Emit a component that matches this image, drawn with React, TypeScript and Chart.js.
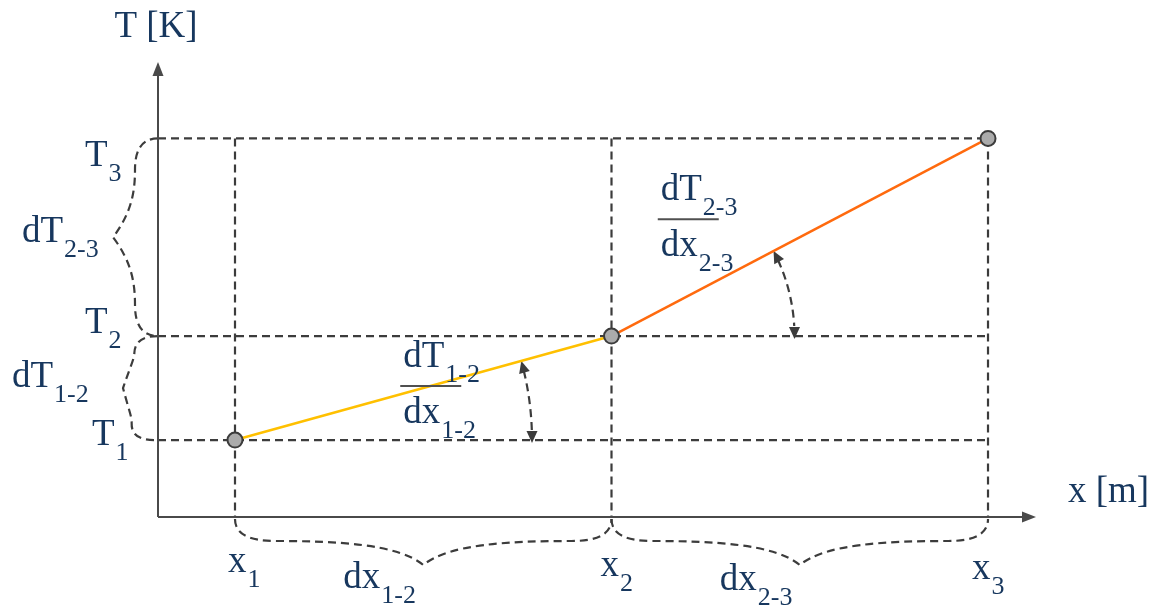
import React, { useEffect, useRef } from "react";
import { Chart, registerables } from "chart.js";

Chart.register(...registerables);

// ---------- data ----------
const xPositions = [1, 2, 3]; // x1, x2, x3 [m]
const temperatures = [1, 2, 3.9]; // T1, T2, T3 [K]
const pointIndices = ["1", "2", "3"];
const intervalLabels = ["1-2", "2-3"];
const xAxisTitle = "x [m]";
const yAxisTitle = "T [K]";

// ---------- style ----------
const TEXT = "#17375E";
const GRAY = "#3c3c3c";
const SEG_COLORS = ["#FFC000", "#FF6A0E"];
const POINT_FILL = "#ABABAB";
const FONT = "'Liberation Serif', 'Times New Roman', serif";
const MAIN = 37;
const SUB = 26;

function line(ctx: CanvasRenderingContext2D, x1: number, y1: number, x2: number, y2: number) {
  ctx.beginPath();
  ctx.moveTo(x1, y1);
  ctx.lineTo(x2, y2);
  ctx.stroke();
}

function arrowhead(ctx: CanvasRenderingContext2D, tx: number, ty: number, dx: number, dy: number, len: number, hw: number) {
  const n = Math.hypot(dx, dy);
  dx /= n;
  dy /= n;
  const bx = tx - dx * len;
  const by = ty - dy * len;
  ctx.beginPath();
  ctx.moveTo(tx, ty);
  ctx.lineTo(bx - dy * hw, by + dx * hw);
  ctx.lineTo(bx + dy * hw, by - dx * hw);
  ctx.closePath();
  ctx.fill();
}

function brace(
  ctx: CanvasRenderingContext2D,
  ax: number, ay: number, bx: number, by: number,
  nx: number, ny: number, m: number, D: number, c: number
) {
  const L = Math.hypot(bx - ax, by - ay);
  const ux = (bx - ax) / L;
  const uy = (by - ay) / L;
  const P = (u: number, v: number): [number, number] => [ax + u * ux + v * nx, ay + u * uy + v * ny];
  const h = L / 2;
  const a = Math.min(25, 0.22 * L);
  const mid1 = (c + (h - a)) / 2;
  ctx.beginPath();
  let p = P(0, 0);
  ctx.moveTo(p[0], p[1]);
  let q1 = P(0, m);
  let q2 = P(c, m);
  ctx.quadraticCurveTo(q1[0], q1[1], q2[0], q2[1]);
  let c1 = P(mid1, m);
  let c2 = P(h - a, m + 3);
  const t = P(h, D);
  ctx.bezierCurveTo(c1[0], c1[1], c2[0], c2[1], t[0], t[1]);
  c2 = P(h + a, m + 3);
  c1 = P(L - mid1, m);
  q2 = P(L - c, m);
  ctx.bezierCurveTo(c2[0], c2[1], c1[0], c1[1], q2[0], q2[1]);
  q1 = P(L, m);
  p = P(L, 0);
  ctx.quadraticCurveTo(q1[0], q1[1], p[0], p[1]);
  ctx.stroke();
}

function label(ctx: CanvasRenderingContext2D, main: string, sub: string, x: number, y: number) {
  ctx.fillStyle = TEXT;
  ctx.textAlign = "left";
  ctx.textBaseline = "alphabetic";
  ctx.font = `${MAIN}px ${FONT}`;
  ctx.fillText(main, x, y);
  const w = ctx.measureText(main).width;
  if (sub) {
    ctx.font = `${SUB}px ${FONT}`;
    ctx.fillText(sub, x + w + 1, y + 15);
  }
}

const diagramPlugin = {
  id: "diagram",
  beforeDatasetsDraw(chart: any) {
    const ctx: CanvasRenderingContext2D = chart.ctx;
    const { left, right, top, bottom } = chart.chartArea;
    const xs = chart.scales.x;
    const ys = chart.scales.y;
    const px = xPositions.map((v) => xs.getPixelForValue(v));
    const py = temperatures.map((v) => ys.getPixelForValue(v));
    const xMax = Math.max(...px);
    const yTop = Math.min(...py);

    ctx.save();
    ctx.strokeStyle = GRAY;
    ctx.fillStyle = GRAY;
    ctx.lineWidth = 2.2;
    ctx.setLineDash([8, 5]);

    // dashed guide grid
    px.forEach((x) => line(ctx, x, yTop, x, bottom));
    py.forEach((y) => line(ctx, left, y, xMax, y));

    // horizontal braces under the x axis
    const hb = [
      { m: 22, D: 46, c: 40 },
      { m: 22, D: 46, c: 40 },
    ];
    for (let i = 0; i < px.length - 1; i++) {
      brace(ctx, px[i], bottom + 2, px[i + 1], bottom + 2, 0, 1, hb[i].m, hb[i].D, hb[i].c);
    }
    // vertical braces left of the T axis
    const vb = [
      { m: 23, D: 33, c: 17 },
      { m: 23, D: 45, c: 31 },
    ];
    for (let i = 0; i < py.length - 1; i++) {
      brace(ctx, left, py[i + 1], left - (i === 0 ? 4 : 0), py[i], -1, 0, vb[i].m, vb[i].D, vb[i].c);
    }

    // angle arcs with double arrows
    const arcR = [297, 183];
    for (let i = 0; i < px.length - 1; i++) {
      const cx = px[i];
      const cy = py[i];
      const th = Math.atan2(py[i + 1] - cy, px[i + 1] - cx);
      const r = arcR[i];
      const g = 10 / r;
      ctx.setLineDash([8, 5]);
      ctx.beginPath();
      ctx.arc(cx, cy, r, th + g, -g);
      ctx.stroke();
      ctx.setLineDash([]);
      arrowhead(ctx, cx + r * Math.cos(th), cy + r * Math.sin(th), Math.sin(th), -Math.cos(th), 12, 5.5);
      arrowhead(ctx, cx + r, cy + 3, 0, 1, 12, 5.5);
    }

    // axes with arrows
    ctx.setLineDash([]);
    ctx.strokeStyle = "#4a4a4a";
    ctx.fillStyle = "#4a4a4a";
    ctx.lineWidth = 2;
    line(ctx, left, bottom, left, top + 8);
    arrowhead(ctx, left, top - 3, 0, -1, 14, 5.5);
    line(ctx, left, bottom, right - 8, bottom);
    arrowhead(ctx, right + 1, bottom, 1, 0, 14, 5.5);
    ctx.restore();
  },
  afterDatasetsDraw(chart: any) {
    const ctx: CanvasRenderingContext2D = chart.ctx;
    const { left, right, top, bottom } = chart.chartArea;
    const xs = chart.scales.x;
    const ys = chart.scales.y;
    const px = xPositions.map((v) => xs.getPixelForValue(v));
    const py = temperatures.map((v) => ys.getPixelForValue(v));

    ctx.save();
    // axis titles
    ctx.font = `${MAIN}px ${FONT}`;
    ctx.fillStyle = TEXT;
    ctx.textAlign = "center";
    ctx.fillText(yAxisTitle, left - 2, top - 28);
    ctx.textAlign = "left";
    ctx.fillText(xAxisTitle, right + 33, bottom - 15);

    // T labels
    const tDx = [66, 73, 73];
    const tDy = [5, -3, 28];
    py.forEach((y, i) => label(ctx, "T", pointIndices[i], left - tDx[i], y + tDy[i]));
    // x labels
    const xDx = [-7, -11, -16];
    const xDy = [55, 59, 62];
    px.forEach((x, i) => label(ctx, "x", pointIndices[i], x + xDx[i], bottom + xDy[i]));

    const dTdx = [146, 136];
    const dTdy = [-1, 5];
    const dxDy = [71, 73];
    const fracDx = [-23, -142];
    const fracDy = [-2, -18];
    intervalLabels.forEach((s, i) => {
      // brace labels
      label(ctx, "dT", s, left - dTdx[i], (py[i] + py[i + 1]) / 2 + dTdy[i]);
      label(ctx, "dx", s, (px[i] + px[i + 1]) / 2 - 80, bottom + dxDy[i]);
      // slope fraction
      const mx = (px[i] + px[i + 1]) / 2 + fracDx[i];
      const my = (py[i] + py[i + 1]) / 2 + fracDy[i];
      ctx.strokeStyle = "#505050";
      ctx.lineWidth = 2;
      line(ctx, mx, my, mx + 61, my);
      label(ctx, "dT", s, mx + 3, my - 19);
      label(ctx, "dx", s, mx + 3, my + 37);
    });
    ctx.restore();
  },
};

export default function App() {
  const ref = useRef<HTMLCanvasElement>(null);
  useEffect(() => {
    document.body.style.margin = "0";
    document.body.style.overflow = "hidden";
    document.body.style.background = "#ffffff";
    const points = xPositions.map((x, i) => ({ x, y: temperatures[i] }));
    const chart = new Chart(ref.current as HTMLCanvasElement, {
      type: "scatter",
      data: {
        datasets: [
          {
            data: points,
            showLine: false,
            pointRadius: 7.5,
            pointBackgroundColor: POINT_FILL,
            pointBorderColor: GRAY,
            pointBorderWidth: 2,
            clip: false,
          } as any,
          ...intervalLabels.map((_, i) => ({
            data: [points[i], points[i + 1]],
            showLine: true,
            borderColor: SEG_COLORS[i],
            borderWidth: 2.5,
            pointRadius: 0,
            fill: false,
            tension: 0,
            clip: false,
          })),
        ],
      },
      options: {
        responsive: false,
        animation: false,
        devicePixelRatio: 1,
        events: [],
        layout: { padding: { left: 158, right: 118, top: 65, bottom: 93 } },
        plugins: {
          legend: { display: false },
          tooltip: { enabled: false },
          title: { display: false },
        },
        scales: {
          x: { type: "linear", display: false, min: 0.7955, max: 3.1248 },
          y: { type: "linear", display: false, min: 0.26, max: 4.606 },
        },
      },
      plugins: [diagramPlugin],
    });
    return () => chart.destroy();
  }, []);
  return (
    <canvas
      ref={ref}
      width={1153}
      height={610}
      style={{ display: "block", width: 1153, height: 610 }}
    />
  );
}
